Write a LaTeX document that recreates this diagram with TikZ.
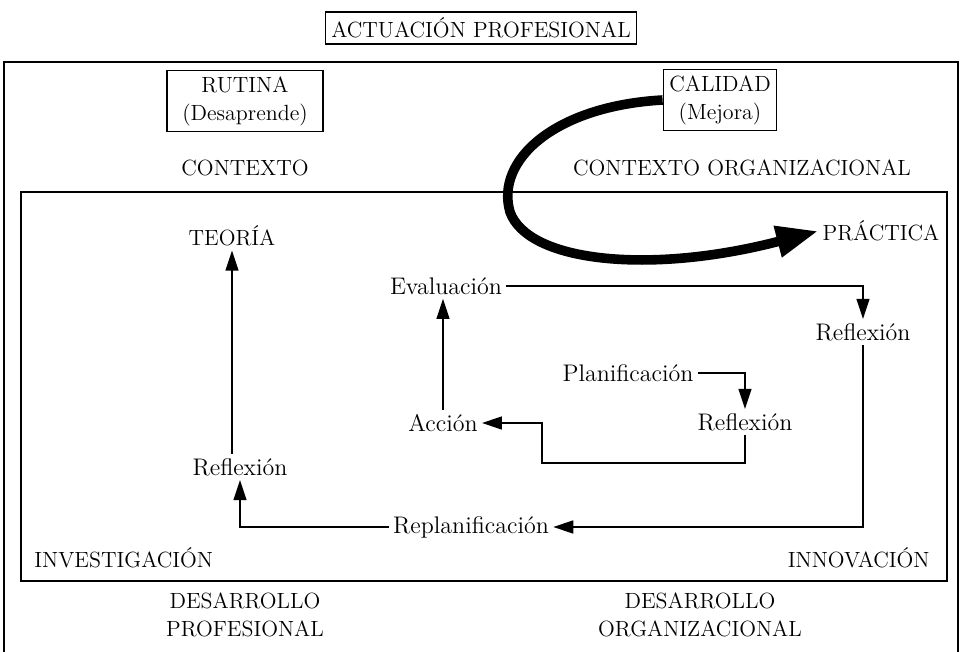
\documentclass[tikz,border=0pt]{standalone}
\usetikzlibrary{arrows.meta}
\begin{document}
\begin{tikzpicture}%
	[x=0.5pt, y=-0.5pt,
	texto/.style={font=\fontsize{11}{14}\selectfont, inner sep=2pt, align=center},
	etapa/.style={font=\fontsize{12}{14}\selectfont, inner sep=2pt},
	caja/.style={texto, draw, line width=0.7pt, inner sep=3pt},
	marco/.style={line width=0.7pt},
	flecha/.style={line width=0.7pt, -{Triangle[length=10pt,width=6.5pt]}},
	gruesa/.style={line width=4.8pt, -{Triangle[length=21pt,width=15pt]}}]
%
\useasboundingbox (0,0) rectangle (965,652);
%
%% Marcos
\draw[marco] (4,652) -- (4,62) -- (958,62) -- (958,652);
\draw[marco] (21,192) rectangle (947,581);
%
%% Textos fuera del marco interior
\node[caja] (actuacion) at (481,28) {ACTUACIÓN PROFESIONAL};
\node[caja, minimum width=78pt] (rutina) at (245,101) {RUTINA\\(Desaprende)};
\node[caja] (calidad) at (720,100) {CALIDAD\\(Mejora)};
\node[texto] (contexto) at (245,168) {CONTEXTO};
\node[texto] (contextoorg) at (742,168) {CONTEXTO ORGANIZACIONAL};
\node[texto] (desprof) at (245,615) {DESARROLLO\\PROFESIONAL};
\node[texto] (desorg) at (700,615) {DESARROLLO\\ORGANIZACIONAL};
%
%% Textos del marco interior
\node[texto] (teoria) at (232,236) {TEORÍA};
\node[texto] (practica) at (881,231) {PRÁCTICA};
\node[etapa] (evaluacion) at (446,286) {Evaluación};
\node[etapa] (reflexionder) at (863,332) {Reflexión};
\node[etapa] (planificacion) at (628,373) {Planificación};
\node[etapa] (accion) at (443,423) {Acción};
\node[etapa] (reflexionmed) at (745,422) {Reflexión};
\node[etapa] (reflexionizq) at (240,467) {Reflexión};
\node[etapa] (replanificacion) at (471,527) {Replanificación};
\node[texto, anchor=west] (investigacion) at (30,558) {INVESTIGACIÓN};
\node[texto, anchor=east] (innovacion) at (934,558) {INNOVACIÓN};
\coordinate (vuelta) at (542,463);
%
%% Flechas
\draw[flecha] (teoria.south |- reflexionizq.north) -- (teoria.south);
\draw[flecha] (accion.north) -- (accion.north |- evaluacion.south);
\draw[flecha] (evaluacion.east) -| (reflexionder.north);
\draw[flecha] (planificacion.east) -| (reflexionmed.north);
\draw[flecha] (reflexionmed.south) |- (vuelta) |- (accion.east);
\draw[flecha] (reflexionder.south) |- (replanificacion.east);
\draw[flecha] (replanificacion.west) -| (reflexionizq.south);
%
%% Flecha gruesa
\draw[gruesa] (calidad.west) .. controls (555,106) and (495,160) .. (510,212)
	.. controls (528,262) and (650,275) .. (practica.west);
\end{tikzpicture}
\end{document}
